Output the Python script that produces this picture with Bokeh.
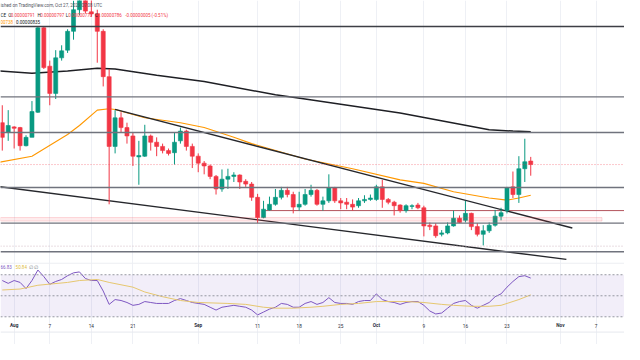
import pandas as pd
from bokeh.plotting import figure
from bokeh.models import ColumnDataSource, Range1d, Span, BoxAnnotation, Label, Grid, FixedTicker
from bokeh.core.properties import value
from bokeh.embed import file_html
from bokeh.resources import INLINE

# ---------------- data (prices in units of 1e-8) ----------------
dates = pd.date_range("2023-07-30", periods=90, freq="D")
opens = [846, 832, 840, 839, 813, 825, 861, 982, 927, 888, 939, 950, 977, 1008, 1040, 1005, 1002, 977,
         912, 812, 853, 839, 827, 797, 798, 827, 818, 812, 806, 803, 820, 834, 812, 798, 788, 784,
         769, 751, 765, 769, 771, 762, 758, 739, 710, 721, 729, 739, 749, 743, 725, 729, 743, 749,
         729, 734, 753, 734, 732, 729, 727, 734, 736, 736, 754, 736, 732, 728, 720, 726, 728, 724,
         699, 698, 686, 688, 698, 709, 706, 716, 697, 686, 691, 699, 712, 720, 754, 743, 780, 791]
highs = [871, 864, 841, 840, 828, 877, 983, 983, 935, 950, 957, 980, 1021, 1055, 1060, 1030, 1008, 980,
         923, 864, 861, 846, 832, 820, 843, 829, 825, 816, 809, 832, 839, 836, 816, 802, 791, 786,
         771, 779, 780, 775, 772, 765, 761, 744, 734, 740, 751, 754, 754, 747, 747, 751, 757, 751,
         740, 772, 754, 738, 738, 736, 738, 742, 743, 757, 764, 738, 734, 729, 729, 729, 731, 727,
         703, 702, 692, 703, 720, 713, 734, 717, 702, 699, 703, 721, 724, 754, 776, 798, 823, 797]
lows = [806, 820, 809, 806, 812, 825, 860, 923, 871, 880, 935, 946, 965, 1000, 1003, 998, 932, 898,
        729, 802, 832, 816, 784, 757, 797, 806, 798, 802, 799, 786, 816, 806, 781, 775, 772, 765,
        743, 747, 751, 761, 751, 754, 734, 702, 709, 720, 727, 736, 739, 716, 720, 727, 740, 727,
        720, 731, 731, 722, 722, 720, 724, 731, 734, 734, 724, 729, 713, 717, 717, 722, 722, 683,
        692, 681, 683, 686, 697, 702, 703, 692, 683, 670, 688, 697, 706, 716, 738, 731, 761, 770]
closes = [825, 842, 838, 813, 825, 862, 982, 925, 888, 939, 949, 977, 1008, 1040, 1006, 1002, 977, 912,
          812, 853, 839, 827, 798, 799, 827, 818, 812, 806, 802, 818, 834, 812, 798, 788, 784, 769,
          751, 765, 769, 771, 761, 758, 739, 710, 722, 729, 739, 749, 743, 725, 729, 743, 749, 729,
          734, 753, 734, 731, 729, 725, 734, 736, 738, 754, 736, 732, 727, 720, 727, 727, 724, 698,
          697, 684, 688, 698, 709, 703, 716, 697, 686, 691, 699, 712, 717, 753, 743, 780, 790, 786]

rsi = [64.5, 61.8, 64.5, 62.7, 56.8, 64.5, 74.5, 68.2, 60.9, 63.6, 65.5, 69.1, 71.8, 72.7, 66.4,
       64.5, 64.5, 54.5, 41.8, 46.4, 45.5, 43.6, 40.9, 41.8, 44.5, 43.6, 42.7, 42.7, 42.7, 45.5,
       47.3, 45.5, 43.6, 42.7, 41.8, 39.1, 36.4, 39.1, 40.0, 40.9, 40.0, 39.1, 36.4, 31.8, 34.5,
       37.3, 39.1, 42.7, 41.8, 39.1, 39.1, 42.7, 44.5, 41.8, 43.6, 48.2, 43.6, 42.7, 42.7, 41.8,
       44.5, 45.5, 45.5, 51.8, 46.4, 44.5, 43.6, 41.8, 43.6, 44.5, 44.5, 40.9, 35.5, 32.7, 33.6,
       38.2, 42.7, 44.5, 45.5, 40.9, 38.2, 40.9, 43.6, 49.1, 51.8, 58.2, 63.6, 68.2, 69.1, 66.83]

rsi_ma_dates = ["2023-07-30", "2023-08-02", "2023-08-05", "2023-08-10", "2023-08-12", "2023-08-15",
                "2023-08-17", "2023-08-21", "2023-08-23", "2023-08-26", "2023-08-29", "2023-09-01",
                "2023-09-06", "2023-09-09", "2023-09-12", "2023-09-14", "2023-09-17", "2023-09-20",
                "2023-09-22", "2023-09-25", "2023-09-28", "2023-10-01", "2023-10-06", "2023-10-09",
                "2023-10-12", "2023-10-14", "2023-10-17", "2023-10-20", "2023-10-22", "2023-10-23",
                "2023-10-25", "2023-10-27"]
rsi_ma = [55.5, 56.4, 60.0, 62.7, 64.5, 65.5, 62.7, 58.2, 53.6, 49.1, 45.5, 43.6, 42.7, 41.8, 39.1,
          38.2, 38.2, 39.1, 40.0, 41.8, 42.7, 44.5, 44.5, 43.6, 41.8, 40.9, 40.0, 40.0, 40.9, 42.7,
          46.4, 50.84]

ma_long_dates = ["2023-07-28", "2023-08-04", "2023-08-10", "2023-08-15", "2023-08-18", "2023-08-25",
                 "2023-09-02", "2023-09-14", "2023-09-19", "2023-10-05", "2023-10-20", "2023-10-24",
                 "2023-10-27"]
ma_long = [921, 917, 920, 924, 923, 914, 905, 886, 880, 860, 836, 834, 833]

ma_short_dates = ["2023-07-28", "2023-08-04", "2023-08-10", "2023-08-12", "2023-08-15", "2023-08-17",
                  "2023-08-18", "2023-08-23", "2023-08-29", "2023-09-02", "2023-09-07", "2023-09-10",
                  "2023-09-19", "2023-09-27", "2023-10-05", "2023-10-09", "2023-10-14", "2023-10-20",
                  "2023-10-23", "2023-10-25", "2023-10-27"]
ma_short = [787, 798, 829, 842, 864, 866, 865, 853, 846, 839, 825, 816, 794, 780, 764, 759, 747, 738,
            735, 738, 742]

upper_trend_dates = ["2023-08-18", "2023-11-03"]
upper_trend = [865, 695]
lower_trend_dates = ["2023-07-27", "2023-11-02"]
lower_trend = [757, 650]

levels = [984, 883, 832, 753, 702, 661]
resist_level = 720
resist_from = "2023-09-12"
zone_low, zone_high, zone_end = 705, 710, "2023-11-08"
dotted_level = 669

tick_dates = ["2023-08-01", "2023-08-07", "2023-08-14", "2023-08-21", "2023-09-01", "2023-09-11",
              "2023-09-18", "2023-09-25", "2023-10-01", "2023-10-09", "2023-10-16", "2023-10-23",
              "2023-11-01", "2023-11-07"]
tick_labels = ["Aug", "7", "14", "21", "Sep", "11", "18", "25", "Oct", "9", "16", "23", "Nov", "7"]

# ---------------- figure ----------------
UP, DOWN = "#089981", "#F23645"
FONT = "Roboto"
W, H = 624, 344
SX, SY = W / 640, H / 360
day = pd.Timedelta(days=1)
x0 = pd.Timestamp("2023-08-01") + (-2.299) * day
x1 = pd.Timestamp("2023-08-01") + 102.79 * day

p = figure(width=W, height=H, x_axis_type="datetime", x_axis_location=None, y_axis_location=None,
           x_range=Range1d(x0, x1), y_range=Range1d(528.0, 1021.2),
           toolbar_location=None, output_backend="svg", min_border=0)
p.extra_y_ranges = {"rsi": Range1d(3.64, 330.91)}
p.outline_line_color = None
p.background_fill_color = "white"
p.border_fill_color = "white"
p.xgrid.visible = False
p.ygrid.visible = False

tick_ts = pd.to_datetime(tick_dates)
tick_ms = [t.value / 1e6 for t in tick_ts]
p.add_layout(Grid(dimension=0, ticker=FixedTicker(ticks=tick_ms), grid_line_color="#eef0f5",
                  grid_line_width=1))

# RSI background band and levels
p.add_layout(BoxAnnotation(bottom=30, top=70, y_range_name="rsi", fill_color="#7E57C2",
                           fill_alpha=0.1, line_color=None))
for lv in (70, 50, 30):
    p.add_layout(Span(location=lv, dimension="width", y_range_name="rsi", line_color="#9598a1",
                      line_dash="2 2", line_width=1))

# pane separators
p.add_layout(Span(location=644.5, dimension="width", line_color="#eceef2", line_width=1))
p.add_layout(Span(location=15.45, dimension="width", y_range_name="rsi", line_color="#e6e8ee",
                  line_width=1))

# horizontal levels
for i, lv in enumerate(levels):
    p.add_layout(Span(location=lv, dimension="width",
                      line_color="#3d3f46" if i == 0 else "#70737d", line_width=1.4))
zone_end_ms = pd.Timestamp(zone_end).value / 1e6
p.add_layout(BoxAnnotation(right=zone_end_ms, bottom=zone_low, top=zone_high, fill_color="#F23645",
                           fill_alpha=0.09, line_color="#F23645", line_alpha=0.18, line_width=1))
p.line([pd.Timestamp(resist_from), x1], [resist_level, resist_level], line_color="#b4545d",
       line_width=1)
p.add_layout(Span(location=dotted_level, dimension="width", line_color="#d3bcc4", line_dash="1 2",
                  line_width=1))
p.add_layout(Span(location=closes[-1], dimension="width", line_color="#F23645", line_alpha=0.55,
                  line_dash="1 2", line_width=1))

# moving averages and channel
p.line(pd.to_datetime(ma_long_dates), ma_long, line_color="#1e1f24", line_width=1.5)
p.line(pd.to_datetime(ma_short_dates), ma_short, line_color="#FF9800", line_width=1.1)
p.line(pd.to_datetime(upper_trend_dates), upper_trend, line_color="#26272c", line_width=1.4)
p.line(pd.to_datetime(lower_trend_dates), lower_trend, line_color="#26272c", line_width=1.4)

# candles
colors = [UP if c >= o else DOWN for o, c in zip(opens, closes)]
src = ColumnDataSource(dict(
    x=dates, o=opens, h=highs, l=lows, c=closes,
    top=[max(o, c) for o, c in zip(opens, closes)],
    bot=[min(o, c) for o, c in zip(opens, closes)],
    col=colors))
p.segment(x0="x", y0="h", x1="x", y1="l", source=src, line_color="col", line_width=1)
p.vbar(x="x", top="top", bottom="bot", width=0.68 * 86400000, source=src, fill_color="col",
       line_color="col", line_width=0.6)

# RSI
p.line(dates, rsi, y_range_name="rsi", line_color="#7E57C2", line_width=1)
p.line(pd.to_datetime(rsi_ma_dates), rsi_ma, y_range_name="rsi", line_color="#f2d466",
       line_width=1)

# date labels
months = {"Aug", "Sep", "Oct", "Nov"}
lab_src = ColumnDataSource(dict(x=tick_ts, y=[21.36] * len(tick_ts), t=tick_labels,
                                fs=["bold" if t in months else "normal" for t in tick_labels]))
p.text(x="x", y="y", text="t", source=lab_src, y_range_name="rsi", text_font=value(FONT),
       text_font_size="4.7px", text_color="#2a2e39", text_align="center",
       text_baseline="middle", text_font_style="fs")

# legend texts (positions given in reference pixels, scaled to the figure)
def lab(rx, ry, t, col, size="4.5px"):
    p.add_layout(Label(x=rx * SX, y=(360 - ry) * SY, x_units="screen", y_units="screen", text=t,
                       text_color=col, text_font=FONT, text_font_size=size,
                       text_baseline="middle"))

def fmt(v):
    return f"{v * 1e-8:.8f}"

lab(0, 5, "ished on TradingView.com, Oct 27, 2023 07:08 UTC", "#50535e")
r1 = 15.6
chg = closes[-1] - opens[-1]
lab(0, r1, "CE", "#131722")
lab(8, r1, "O", "#131722"); lab(10.6, r1, fmt(opens[-1]), DOWN)
lab(38, r1, "H", "#131722"); lab(40.8, r1, fmt(highs[-1]), DOWN)
lab(67, r1, "L", "#131722"); lab(69.6, r1, fmt(lows[-1]), DOWN)
lab(97, r1, "C", "#131722"); lab(99.8, r1, fmt(closes[-1]), DOWN)
lab(128, r1, f"{chg * 1e-8:.8f} (-0.51%)", DOWN)
r2 = 23
lab(0, r2, fmt(ma_short[-1] - 4)[-5:], "#FF9800")
lab(16, r2, fmt(835), "#131722")
r3 = 279
lab(0, r3, f"{rsi[-1]:.2f}", "#7E57C2")
lab(15.5, r3, f"{rsi_ma[-1]:.2f}", "#e0bd3c")
lab(29, r3, "\u2205  \u2205", "#787b86")

open("out.html", "w").write(file_html(p, INLINE))
